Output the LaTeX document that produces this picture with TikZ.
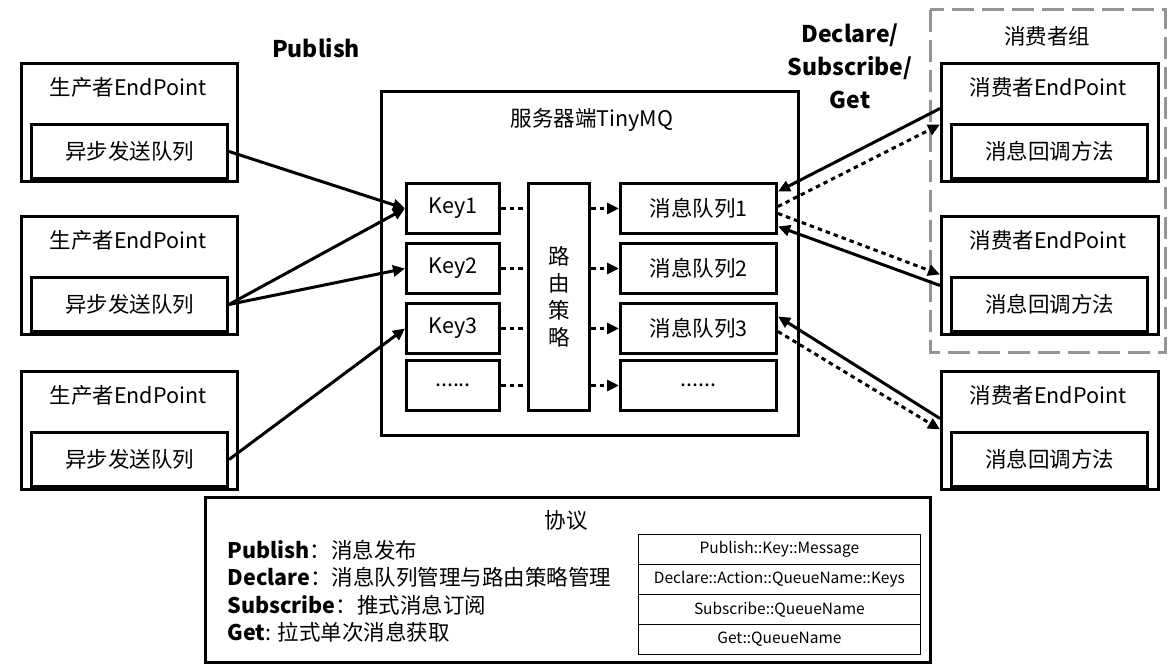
\documentclass[tikz,border=0pt]{standalone}
\usepackage{fontspec}
\setmainfont{Noto Sans CJK SC}
\usetikzlibrary{arrows.meta, positioning}
\newcommand\moredots{......}

\begin{document}
\begin{tikzpicture}[x=1pt, y=-1pt,
  box/.style={draw, line width=3pt, inner sep=0pt, anchor=north west, font=\fontsize{21.5}{25}\selectfont},
  cell/.style={draw, line width=0.8pt, inner sep=0pt, anchor=north west,
               minimum width=282pt, minimum height=30pt, font=\fontsize{15.5}{18}\selectfont},
  txt/.style={font=\fontsize{21.5}{25}\selectfont},
  lbl/.style={font=\fontsize{23}{33}\selectfont\bfseries, align=center},
  conn/.style={line width=3pt, -{Triangle[length=12pt,width=11pt]}},
  dots/.style={line width=3pt, dash pattern=on 4.5pt off 4pt},
  group/.style={draw=black!42, line width=3pt, dash pattern=on 22pt off 8pt}]
  \useasboundingbox (0,0) rectangle (1176,666);

  % producers
  \foreach \i/\y in {1/62,2/215,3/370}{
    \node[box, minimum width=216pt, minimum height=118pt] (prod\i) at (20,\y) {};
    \node[txt] (prod\i t) at (128,\y+25) {生产者EndPoint};
    \node[box, minimum width=196pt, minimum height=54pt] (prod\i q) at (30,\y+61) {异步发送队列};
  }
  \node[lbl] (pub) at (316,48) {Publish};

  % server
  \node[box, minimum width=417pt, minimum height=344pt] (srv) at (380,90) {};
  \node[txt] (srvt) at (592,120) {服务器端TinyMQ};
  \node[box, minimum width=61pt, minimum height=227pt, align=center,
        font=\fontsize{21.5}{27}\selectfont] (route) at (527,182) {路\\由\\策\\略};
  \foreach \i/\y/\k/\q in {1/182/Key1/消息队列1,2/242/Key2/消息队列2,3/302/Key3/消息队列3,4/359/\moredots/\moredots}{
    \node[box, minimum width=93pt, minimum height=50pt] (key\i) at (405,\y) {\k};
    \node[box, minimum width=156pt, minimum height=50pt] (que\i) at (619,\y) {\q};
    \draw[dots] (key\i.east) -- (key\i.east -| route.west);
    \draw[dots, -{Triangle[length=12pt,width=11pt]}] (key\i.east -| route.east) -- (que\i.west);
  }

  % consumers
  \draw[group] (930,10) rectangle (1165,352);
  \node[txt] (grp) at (1047,36) {消费者组};
  \foreach \i/\y in {1/62,2/215,3/370}{
    \node[box, minimum width=217pt, minimum height=118pt] (cons\i) at (940,\y) {};
    \node[txt] (cons\i t) at (1048,\y+25) {消费者EndPoint};
    \node[box, minimum width=196pt, minimum height=54pt] (cons\i q) at (950,\y+61) {消息回调方法};
  }
  \node[lbl] (dsg) at (850,66) {Declare/\\Subscribe/\\Get};

  % publish
  \draw[conn] (prod1q.east) -- (key1.west);
  \draw[conn] (prod2q.east) -- (key1.west);
  \draw[conn] (prod2q.east) -- (key2.west);
  \draw[conn] (prod3q.east) -- (key3.west);

  % declare / subscribe / get
  \draw[conn] ([yshift=14pt]cons1.west) -- ([yshift=17pt]que1.east);
  \draw[dots, -{Triangle[length=12pt,width=11pt]}] ([yshift=2pt]que1.east) -- ([yshift=-2pt]cons1.west);
  \draw[dots, -{Triangle[length=12pt,width=11pt]}] ([yshift=-5pt]que1.east) -- ([yshift=1pt]cons2.west);
  \draw[conn] ([yshift=-10pt]cons2.west) -- ([yshift=-18pt]que1.east);
  \draw[conn] ([yshift=12pt]cons3.west) -- ([yshift=12pt]que3.east);
  \draw[dots, -{Triangle[length=12pt,width=11pt]}] ([yshift=-3pt]que3.east) -- ([yshift=1pt]cons3.west);

  % protocol
  \node[box, minimum width=725pt, minimum height=165pt] (proto) at (204,496) {};
  \node[txt] (protot) at (566,520) {协议};
  \node[txt, anchor=west] (l1) at (224,550) {\textbf{Publish}：消息发布};
  \node[txt, anchor=west] (l2) at (224,577) {\textbf{Declare}：消息队列管理与路由策略管理};
  \node[txt, anchor=west] (l3) at (224,605) {\textbf{Subscribe}：推式消息订阅};
  \node[txt, anchor=west] (l4) at (224,632) {\textbf{Get}: 拉式单次消息获取};
  \node[cell] (c1) at (638,534) {Publish::Key::Message};
  \node[cell] (c2) at (638,564) {Declare::Action::QueueName::Keys};
  \node[cell] (c3) at (638,594) {Subscribe::QueueName};
  \node[cell] (c4) at (638,624) {Get::QueueName};
\end{tikzpicture}
\end{document}
